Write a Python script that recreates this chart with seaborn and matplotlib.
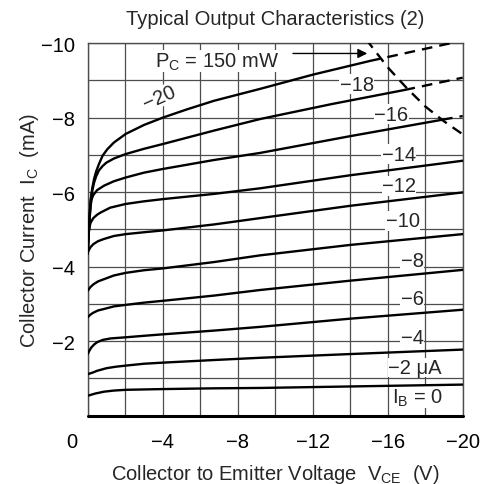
import numpy as np
import matplotlib
matplotlib.use('Agg')
import matplotlib.pyplot as plt
import matplotlib.transforms as mtransforms
import seaborn as sns

#----------------------------------------------------
# curve data (V_CE in V, I_C in mA)
ib_labels = ['\u22122 \u03bcA', '\u22124', '\u22126', '\u22128', '\u221210',
             '\u221212', '\u221214', '\u221216', '\u221218', '\u221220']

v_ib2 = [0, -0.2, -0.4, -0.87, -1.4, -2.03, -3, -4.02, -6.74, -9.2, -14, -20]
i_ib2 = [-0.53, -0.56, -0.59, -0.64, -0.67, -0.69, -0.70, -0.71, -0.73, -0.74, -0.78, -0.83]

v_ib4 = [0, -0.25, -0.5, -1.0, -1.5, -2.03, -3, -4.02, -6.74, -9.2, -14, -20]
i_ib4 = [-1.11, -1.15, -1.2, -1.27, -1.31, -1.34, -1.39, -1.42, -1.49, -1.55, -1.65, -1.77]

v_ib6 = [0, -0.1, -0.2, -0.35, -0.51, -0.8, -1.23, -2.03, -3, -4.02, -6.74, -9.2, -14, -20]
i_ib6 = [-1.65, -1.75, -1.83, -1.91, -1.97, -2.03, -2.07, -2.1, -2.14, -2.18, -2.28, -2.38, -2.6, -2.84]

v_ib8 = [0, -0.15, -0.3, -0.55, -0.87, -1.4, -2.03, -3, -4.02, -6.74, -9.2, -14, -20]
i_ib8 = [-2.64, -2.71, -2.76, -2.82, -2.86, -2.93, -2.97, -3.03, -3.08, -3.22, -3.37, -3.62, -3.91]

v_ib10 = [0, -0.15, -0.3, -0.55, -0.87, -1.4, -2.03, -3, -4.02, -6.74, -9.2, -14, -20]
i_ib10 = [-3.35, -3.45, -3.52, -3.6, -3.66, -3.76, -3.83, -3.9, -3.95, -4.12, -4.3, -4.58, -4.87]

v_ib12 = [0, -0.15, -0.3, -0.55, -0.87, -1.4, -2.03, -3, -4.02, -6.74, -9.2, -14, -20]
i_ib12 = [-4.38, -4.52, -4.6, -4.68, -4.74, -4.82, -4.87, -4.92, -4.97, -5.13, -5.3, -5.63, -5.99]

v_ib14 = [0, -0.03, -0.07, -0.15, -0.3, -0.5, -0.69, -1.2, -2.03, -3, -4.02, -6.74, -9.2, -14, -20]
i_ib14 = [-4.35, -4.7, -5.0, -5.17, -5.3, -5.39, -5.45, -5.58, -5.68, -5.75, -5.81, -5.95, -6.1, -6.45, -6.84]

v_ib16 = [0, -0.03, -0.07, -0.12, -0.16, -0.22, -0.3, -0.5, -0.87, -1.4, -2.03, -3, -4.02,
          -6.74, -9.2, -14, -18.9]
i_ib16 = [-4.35, -4.7, -5.0, -5.4, -5.65, -5.82, -5.92, -6.05, -6.17, -6.29, -6.39, -6.52, -6.62,
          -6.86, -7.05, -7.5, -7.94]
v_ib16_tail = [-18.9, -20]
i_ib16_tail = [-7.94, -8.04]

v_ib18 = [0, -0.03, -0.07, -0.12, -0.16, -0.25, -0.34, -0.45, -0.6, -0.8, -1.0, -1.4, -2.03,
          -3, -4.02, -6.74, -9.2, -13, -16.9]
i_ib18 = [-4.35, -4.7, -5.0, -5.45, -5.75, -6.05, -6.25, -6.42, -6.58, -6.7, -6.79, -6.9, -7.02,
          -7.16, -7.29, -7.65, -7.96, -8.36, -8.74]
v_ib18_tail = [-16.9, -20]
i_ib18_tail = [-8.74, -9.07]

v_ib20 = [0, -0.03, -0.07, -0.12, -0.16, -0.25, -0.34, -0.45, -0.6, -0.8, -1.05, -1.4, -2.03,
          -3, -4.02, -5.3, -6.74, -9.2, -12, -15.06]
i_ib20 = [-4.35, -4.7, -5.0, -5.5, -5.8, -6.12, -6.35, -6.55, -6.75, -6.98, -7.15, -7.33, -7.56,
          -7.8, -8.0, -8.22, -8.45, -8.77, -9.15, -9.52]
v_ib20_tail = [-15.06, -19.4]
i_ib20_tail = [-9.52, -10.0]

v_ib0 = [0, -20]
i_ib0 = [0, 0]

# P_C = 150 mW limit
v_pc = [-14.85, -16, -17, -18, -19, -20]
i_pc = [-10.1, -9.35, -8.8, -8.3, -7.9, -7.55]

# label anchors (V, I)
lab_v = [-17.46, -17.3, -17.3, -17.3, -16.8, -16.6, -16.6, -16.2, -14.35, -3.8]
lab_i = [-1.29, -2.1, -3.13, -4.16, -5.23, -6.17, -7.02, -8.09, -8.9, -8.54]

x_ticks = [0, -2, -4, -6, -8, -10, -12, -14, -16, -18, -20]
x_ticklabels = ['0', '', '\u22124', '', '\u22128', '', '\u221212', '', '\u221216', '', '\u221220']
y_ticks = [0, -1, -2, -3, -4, -5, -6, -7, -8, -9, -10]
y_ticklabels = ['', '', '\u22122', '', '\u22124', '', '\u22126', '', '\u22128', '', '\u221210']


#----------------------------------------------------
def main():
    sns.set_theme(style='white')
    plt.rcParams['font.family'] = ['Liberation Sans', 'DejaVu Sans']
    plt.rcParams['mathtext.fontset'] = 'custom'
    plt.rcParams['mathtext.rm'] = 'Liberation Sans'
    plt.rcParams['axes.unicode_minus'] = True

    fs = 14.5
    fig = plt.figure(figsize=(4.81, 4.85), dpi=100)
    ax = fig.add_axes([0.1823, 0.1412, 0.7796, 0.7680])

    lw = 1.7
    dash = (4.5, 3)
    solid = [(v_ib2, i_ib2), (v_ib4, i_ib4), (v_ib6, i_ib6), (v_ib8, i_ib8),
             (v_ib10, i_ib10), (v_ib12, i_ib12), (v_ib14, i_ib14),
             (v_ib16, i_ib16), (v_ib18, i_ib18), (v_ib20, i_ib20)]
    for v, i in solid:
        sns.lineplot(x=v, y=i, ax=ax, color='black', lw=lw, sort=False,
                     estimator=None, zorder=3)

    tails = [(v_ib16_tail, i_ib16_tail), (v_ib18_tail, i_ib18_tail),
             (v_ib20_tail, i_ib20_tail)]
    for v, i in tails:
        line = sns.lineplot(x=v, y=i, ax=ax, color='black', lw=lw, sort=False,
                            estimator=None, zorder=3).lines[-1]
        line.set_dashes(dash)

    pc = sns.lineplot(x=v_pc, y=i_pc, ax=ax, color='black', lw=lw, sort=False,
                      estimator=None, zorder=3).lines[-1]
    pc.set_dashes(dash)

    sns.lineplot(x=v_ib0, y=i_ib0, ax=ax, color='black', lw=2.2, sort=False,
                 estimator=None, zorder=3, clip_on=False)

    ax.set_xlim(0, -20)
    ax.set_ylim(0, -10)
    ax.set_xticks(x_ticks)
    ax.set_xticklabels(x_ticklabels)
    ax.set_yticks(y_ticks)
    ax.set_yticklabels(y_ticklabels)
    ax.tick_params(length=0, labelsize=fs, colors='black')
    ax.tick_params(axis='x', pad=12)
    ax.tick_params(axis='y', pad=9)
    ax.grid(True, color='#4d4d4d', lw=0.9)
    ax.set_axisbelow(True)
    for s in ax.spines.values():
        s.set_color('#4d4d4d')
        s.set_linewidth(1.0)
    ax.spines['bottom'].set_color('black')

    # the "0" label sits at the corner, left of the frame
    lab0 = ax.get_xticklabels()[0]
    lab0.set_transform(lab0.get_transform() +
                       mtransforms.ScaledTranslation(-0.157, 0, fig.dpi_scale_trans))

    box = dict(facecolor='white', edgecolor='none', pad=0.3)
    for k, txt in enumerate(ib_labels):
        rot = 24 if k == len(ib_labels) - 1 else 0
        ax.text(lab_v[k], lab_i[k], txt, fontsize=fs, ha='center', va='center',
                rotation=rot, bbox=box, zorder=2.5)
    ax.text(-17.6, -0.49, 'I$_{\\rm B}$ = 0', fontsize=fs, ha='center',
            va='center', bbox=box, zorder=2.5)

    ax.text(-6.88, -9.52, 'P$_{\\rm C}$ = 150 mW', fontsize=fs, ha='center',
            va='center', bbox=box, zorder=2.5)
    ax.annotate('', xy=(-15.06, -9.72), xytext=(-10.8, -9.72),
                arrowprops=dict(arrowstyle='-|>', color='black', lw=1.0,
                                mutation_scale=14), zorder=4)

    ax.set_title('Typical Output Characteristics (2)', fontsize=fs, pad=14)
    ax.set_xlabel('Collector to Emitter Voltage  V$_{\\rm CE}$  (V)', fontsize=fs,
                  labelpad=8)
    ax.set_ylabel('Collector Current  I$_{\\rm C}$  (mA)', fontsize=fs, labelpad=0)

    fig.savefig('out.png', dpi=100)


#----------------------------------------------------
if __name__ == '__main__':
    main()
